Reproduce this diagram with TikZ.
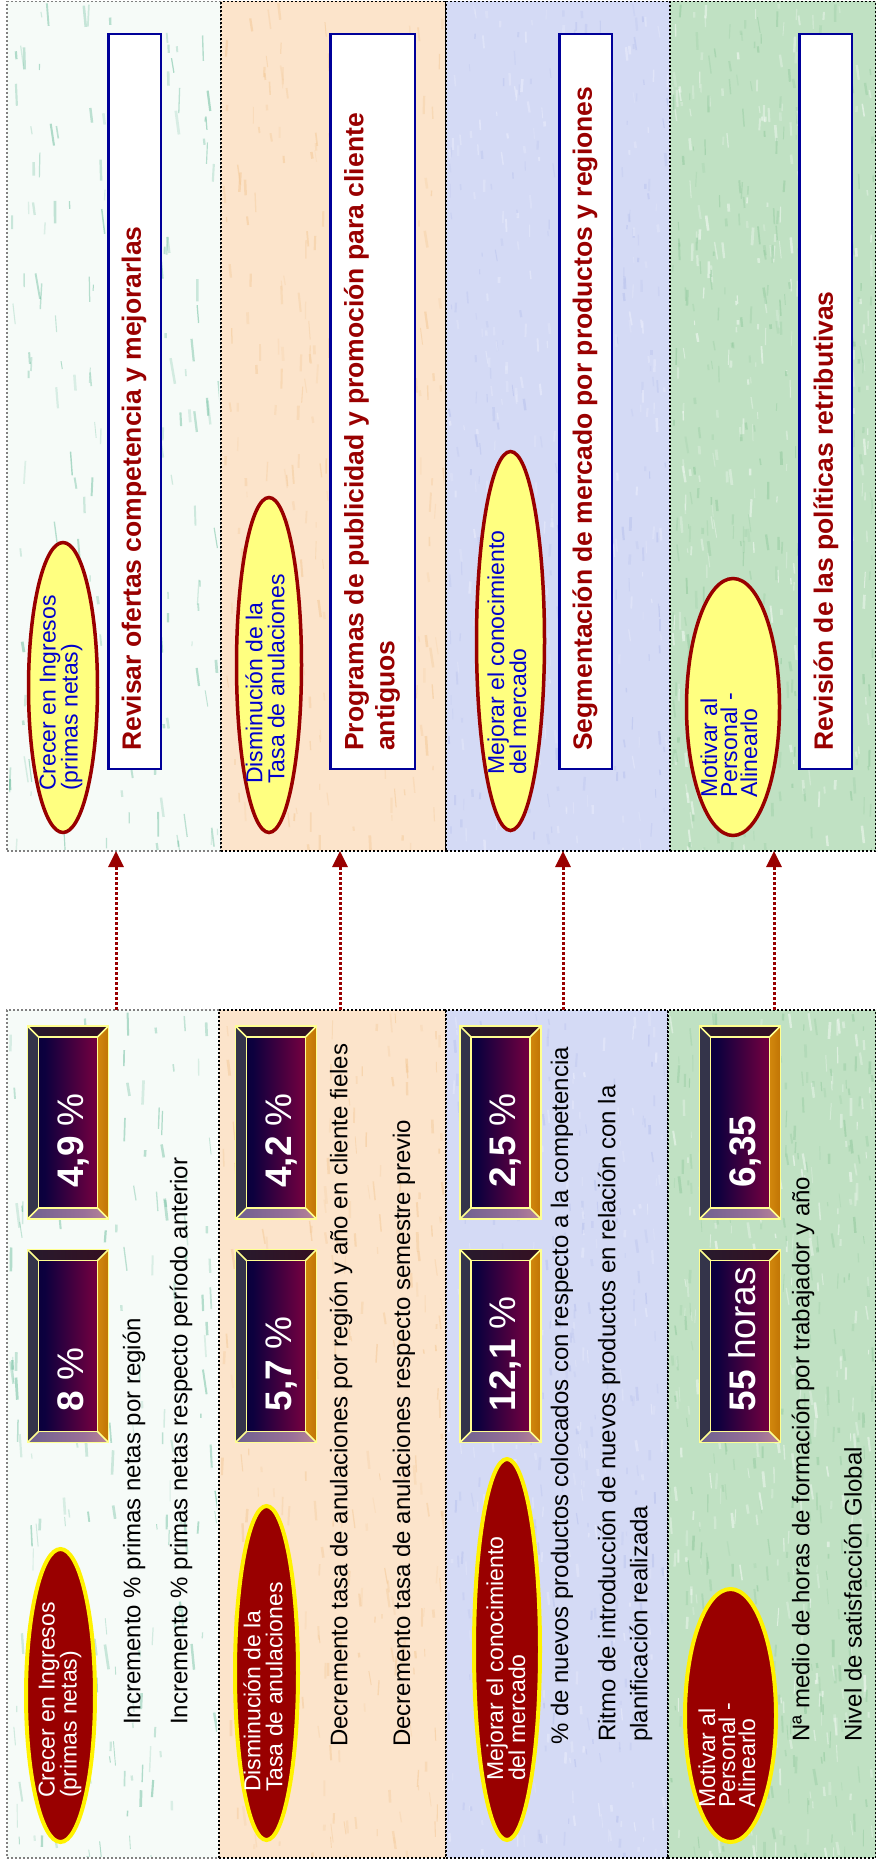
\documentclass[tikz,border=0pt]{standalone}
\usepackage{fontspec}
\setmainfont{Liberation Sans}
\usetikzlibrary{arrows.meta,calc,shapes.geometric}

% panel backgrounds
\definecolor{mintbg}{HTML}{F6FBF8}
\definecolor{peachbg}{HTML}{FCE4CB}
\definecolor{lavbg}{HTML}{D4DAF5}
\definecolor{grassbg}{HTML}{C0E1C3}
% background grain
\definecolor{mintstreak}{HTML}{4FB08A}
\definecolor{peachstreak}{HTML}{F3C896}
\definecolor{lavdark}{HTML}{B4BEEC}
\definecolor{lavlight}{HTML}{E8EBFB}
\definecolor{grassdark}{HTML}{86C394}
% shapes and text
\definecolor{darkred}{HTML}{990000}
\definecolor{paleyel}{HTML}{FFFF80}
\definecolor{navyline}{HTML}{000099}
\definecolor{goalblue}{HTML}{0000CC}
% value plates
\definecolor{facenavy}{HTML}{000036}
\definecolor{facenavyb}{HTML}{0C003E}
\definecolor{facepurp}{HTML}{6A0040}
\definecolor{facecrim}{HTML}{8E0036}
\definecolor{faceorng}{HTML}{E07030}
\definecolor{bevleftc}{HTML}{34344A}
\definecolor{bevtopa}{HTML}{202033}
\definecolor{bevtopb}{HTML}{3C0A1C}
\definecolor{bevbota}{HTML}{50588A}
\definecolor{bevbotb}{HTML}{9A7098}
\definecolor{bevbotc}{HTML}{F0A890}
\definecolor{bevrighta}{HTML}{DA9212}
\definecolor{bevrightb}{HTML}{B86A00}
\definecolor{plateline}{HTML}{FFFF90}

\pgfdeclarehorizontalshading{facegrad}{100bp}{color(0bp)=(facenavy); color(30bp)=(facenavyb); color(70bp)=(facepurp); color(88bp)=(facecrim); color(100bp)=(faceorng)}
\pgfdeclarehorizontalshading{topbev}{100bp}{color(0bp)=(bevtopa); color(100bp)=(bevtopb)}
\pgfdeclarehorizontalshading{botbev}{100bp}{color(0bp)=(bevbota); color(60bp)=(bevbotb); color(100bp)=(bevbotc)}
\pgfdeclarehorizontalshading{rightbev}{100bp}{color(0bp)=(bevrighta); color(100bp)=(bevrightb)}

\tikzset{
  panel/.style={rectangle, draw=black, inner sep=0, outer sep=0,
    line width=1.6pt, dash pattern=on 1.6pt off 2.4pt},
  graypanel/.style={panel, draw=black!50},
  link/.style={draw=darkred, line width=3pt, dash pattern=on 3pt off 2pt,
    -{Triangle[width=15pt,length=16pt]}},
  goalU/.style={ellipse, draw=darkred, fill=paleyel, line width=3.5pt, inner sep=0},
  goalL/.style={ellipse, draw=yellow, fill=darkred, line width=4pt, inner sep=0},
  goaltxt/.style={rotate=90, anchor=west, align=left, inner sep=0,
    font=\fontsize{23}{22}\selectfont},
  actbox/.style={rectangle, draw=navyline, fill=white, line width=2.5pt, inner sep=0},
  acttxt/.style={rotate=90, anchor=west, align=left, inner sep=0,
    font=\bfseries\fontsize{26.5}{31}\selectfont, text=darkred},
  metric/.style={rotate=90, anchor=west, align=left, inner sep=0,
    font=\fontsize{24}{32}\selectfont, text=black},
  valframe/.style={rectangle, minimum width=81pt, minimum height=193pt,
    inner sep=0, outer sep=0},
  valline/.style={draw=plateline, line width=1.5pt},
  valtxt/.style={rotate=90, anchor=base west, inner sep=0, text=white,
    font=\fontsize{37}{40}\selectfont},
}

% short near-vertical grain strokes inside a rectangle:
% x1, x2, y1, y2, count, colour, opacity, extra length
\newcommand\grain[8]{%
  \begin{scope}
    \clip (#1,#3) rectangle (#2,#4);
    \foreach \k in {1,...,#5}{%
      \pgfmathsetmacro\gx{#1+rnd*(#2-#1)}%
      \pgfmathsetmacro\gy{#3+rnd*(#4-#3)}%
      \pgfmathsetmacro\gl{4+rnd*#8}%
      \pgfmathsetmacro\gw{0.8+rnd*2}%
      \pgfmathsetmacro\go{#7*(0.35+0.65*rnd)}%
      \pgfmathsetmacro\gs{0.25*(rnd-0.3)*\gl}%
      \draw[draw=#6, draw opacity=\go, line width=\gw pt] (\gx,\gy) -- ++(\gs,\gl);
    }
  \end{scope}
}

% bevelled value plate: name, centre, bold part, plain part
\newcommand\valueplate[4]{%
  \node[valframe] (#1) at (#2) {};
  \fill[bevleftc] (#1.north west) -- ($(#1.north west)+(11,11)$)
    -- ($(#1.south west)+(11,-11)$) -- (#1.south west) -- cycle;
  \shade[shading=topbev] (#1.north west) -- (#1.north east)
    -- ($(#1.north east)+(-11,11)$) -- ($(#1.north west)+(11,11)$) -- cycle;
  \shade[shading=rightbev] (#1.north east) -- (#1.south east)
    -- ($(#1.south east)+(-11,-11)$) -- ($(#1.north east)+(-11,11)$) -- cycle;
  \shade[shading=botbev] (#1.south west) -- (#1.south east)
    -- ($(#1.south east)+(-11,-11)$) -- ($(#1.south west)+(11,-11)$) -- cycle;
  \shade[shading=facegrad] ($(#1.north west)+(11,11)$) rectangle ($(#1.south east)+(-11,-11)$);
  \draw[valline] (#1.north west) rectangle (#1.south east);
  \draw[valline] ($(#1.north west)+(11,11)$) rectangle ($(#1.south east)+(-11,-11)$);
  \draw[valline] (#1.north west) -- ($(#1.north west)+(11,11)$)
    (#1.north east) -- ($(#1.north east)+(-11,11)$)
    (#1.south east) -- ($(#1.south east)+(-11,-11)$)
    (#1.south west) -- ($(#1.south west)+(11,-11)$);
  \node[valtxt] (#1t) at ($(#1.south)+(15,-31)$) {{\bfseries #3}#4};
}

\begin{document}
\begin{tikzpicture}[x=1pt, y=-1pt]
\useasboundingbox (0,0) rectangle (877,1868);
\pgfmathsetseed{4711}

% ---------- upper row: objectives and actions ----------
\node[graypanel, fill=mintbg, minimum width=214pt, minimum height=849.5pt] (up1) at (114,426.25) {};
\node[panel, fill=peachbg, minimum width=225pt, minimum height=849.5pt] (up2) at (333.5,426.25) {};
\node[panel, fill=lavbg, minimum width=224pt, minimum height=849.5pt] (up3) at (558,426.25) {};
\node[panel, fill=grassbg, minimum width=205.5pt, minimum height=849.5pt] (up4) at (772.75,426.25) {};

% ---------- lower row panels ----------
\node[graypanel, fill=mintbg, minimum width=212pt, minimum height=848pt] (lo1) at (113,1434) {};
\node[panel, fill=peachbg, minimum width=227pt, minimum height=848pt] (lo2) at (332.5,1434) {};
\node[panel, fill=lavbg, minimum width=222pt, minimum height=848pt] (lo3) at (557,1434) {};
\node[panel, fill=grassbg, minimum width=207.5pt, minimum height=848pt] (lo4) at (771.75,1434) {};

% background grain
\grain{9}{219}{3}{849}{170}{mintstreak}{0.45}{22}
\grain{9}{217}{1012}{1856}{170}{mintstreak}{0.45}{22}
\grain{223}{444}{3}{849}{260}{peachstreak}{0.55}{16}
\grain{221}{444}{1012}{1856}{260}{peachstreak}{0.55}{16}
\grain{448}{668}{3}{849}{220}{lavdark}{0.5}{10}
\grain{448}{668}{3}{849}{220}{lavlight}{0.7}{10}
\grain{448}{666}{1012}{1856}{220}{lavdark}{0.5}{10}
\grain{448}{666}{1012}{1856}{220}{lavlight}{0.7}{10}
\grain{672}{874}{3}{849}{300}{white}{0.5}{14}
\grain{672}{874}{3}{849}{300}{grassdark}{0.45}{14}
\grain{670}{874}{1012}{1856}{300}{white}{0.5}{14}
\grain{670}{874}{1012}{1856}{300}{grassdark}{0.45}{14}

% ---------- upper row contents ----------
\node[goalU, minimum width=69pt, minimum height=290pt] (ue1) at (63,687.5) {};
\node[goalU, minimum width=65pt, minimum height=335pt] (ue2) at (269,665) {};
\node[goalU, minimum width=68pt, minimum height=379pt] (ue3) at (510.5,641) {};
\node[goalU, minimum width=93pt, minimum height=257pt] (ue4) at (733,707) {};

\node[goaltxt, text=goalblue] (ue1t) at (61,791) {Crecer en Ingresos\\(primas netas)};
\node[goaltxt, text=goalblue] (ue2t) at (265,784) {Disminución de la\\Tasa de anulaciones};
\node[goaltxt, text=goalblue] (ue3t) at (507,775) {Mejorar el conocimiento\\del mercado};
\node[goaltxt, text=goalblue, font=\fontsize{23}{20}\selectfont] (ue4t) at (729,798) {Motivar al\\Personal -\\Alinearlo};

\node[actbox, minimum width=52.5pt, minimum height=734.5pt] (ua1) at (134.5,401.5) {};
\node[actbox, minimum width=84.5pt, minimum height=734.5pt] (ua2) at (372.5,401.5) {};
\node[actbox, minimum width=52.5pt, minimum height=734.5pt] (ua3) at (585.5,401.5) {};
\node[actbox, minimum width=52.5pt, minimum height=734.5pt] (ua4) at (825.5,401.5) {};

\node[acttxt] (ua1t) at (134,751) {Revisar ofertas competencia y mejorarlas};
\node[acttxt] (ua2t) at (372,751) {Programas de publicidad y promoción para cliente\\antiguos};
\node[acttxt] (ua3t) at (585,751) {Segmentación de mercado por productos y regiones};
\node[acttxt] (ua4t) at (826,751) {Revisión de las políticas retributivas};

% ---------- lower row contents ----------
\node[goalL, minimum width=69pt, minimum height=293pt] (le1) at (60.5,1695.5) {};
\node[goalL, minimum width=63pt, minimum height=334pt] (le2) at (266.5,1673) {};
\node[goalL, minimum width=66pt, minimum height=381pt] (le3) at (507,1649.5) {};
\node[goalL, minimum width=91pt, minimum height=253pt] (le4) at (730.5,1715.5) {};

\node[goaltxt, text=white] (le1t) at (60,1798) {Crecer en Ingresos\\(primas netas)};
\node[goaltxt, text=white] (le2t) at (263,1792) {Disminución de la\\Tasa de anulaciones};
\node[goaltxt, text=white] (le3t) at (506,1781) {Mejorar el conocimiento\\del mercado};
\node[goaltxt, text=white, font=\fontsize{23}{20}\selectfont] (le4t) at (727,1808) {Motivar al\\Personal -\\Alinearlo};

\valueplate{v1b}{68,1122.5}{4,9}{ \%}
\valueplate{v1a}{68,1346}{8}{ \%}
\valueplate{v2b}{276,1122.5}{4,2}{ \%}
\valueplate{v2a}{276,1346}{5,7}{ \%}
\valueplate{v3b}{500.5,1122.5}{2,5}{ \%}
\valueplate{v3a}{500.5,1346}{12,1}{ \%}
\valueplate{v4b}{740,1122.5}{6,35}{}
\valueplate{v4a}{740,1346}{55}{ horas}

\node[metric] (m11) at (134,1725) {Incremento \% primas netas por región};
\node[metric] (m12) at (181,1725) {Incremento \% primas netas respecto período anterior};
\node[metric] (m21) at (341,1747) {Decremento tasa de anulaciones por región y año en cliente fieles};
\node[metric] (m22) at (404,1747) {Decremento tasa de anulaciones respecto semestre previo};
\node[metric] (m31) at (562,1745) {\% de nuevos productos colocados con respecto a la competencia};
\node[metric] (m32) at (625,1742) {Ritmo de introducción de nuevos productos en relación con la\\planificación realizada};
\node[metric] (m41) at (803,1742) {Nª medio de horas de formación por trabajador y año};
\node[metric] (m42) at (853,1742) {Nivel de satisfacción Global};

% ---------- links from indicators to actions ----------
\draw[link] ([xshift=3pt]lo1.north) -- ([xshift=3pt]lo1.north |- up1.south);
\draw[link] ([xshift=7.5pt]lo2.north) -- ([xshift=7.5pt]lo2.north |- up2.south);
\draw[link] ([xshift=6pt]lo3.north) -- ([xshift=6pt]lo3.north |- up3.south);
\draw[link] ([xshift=2.25pt]lo4.north) -- ([xshift=2.25pt]lo4.north |- up4.south);
\end{tikzpicture}
\end{document}
